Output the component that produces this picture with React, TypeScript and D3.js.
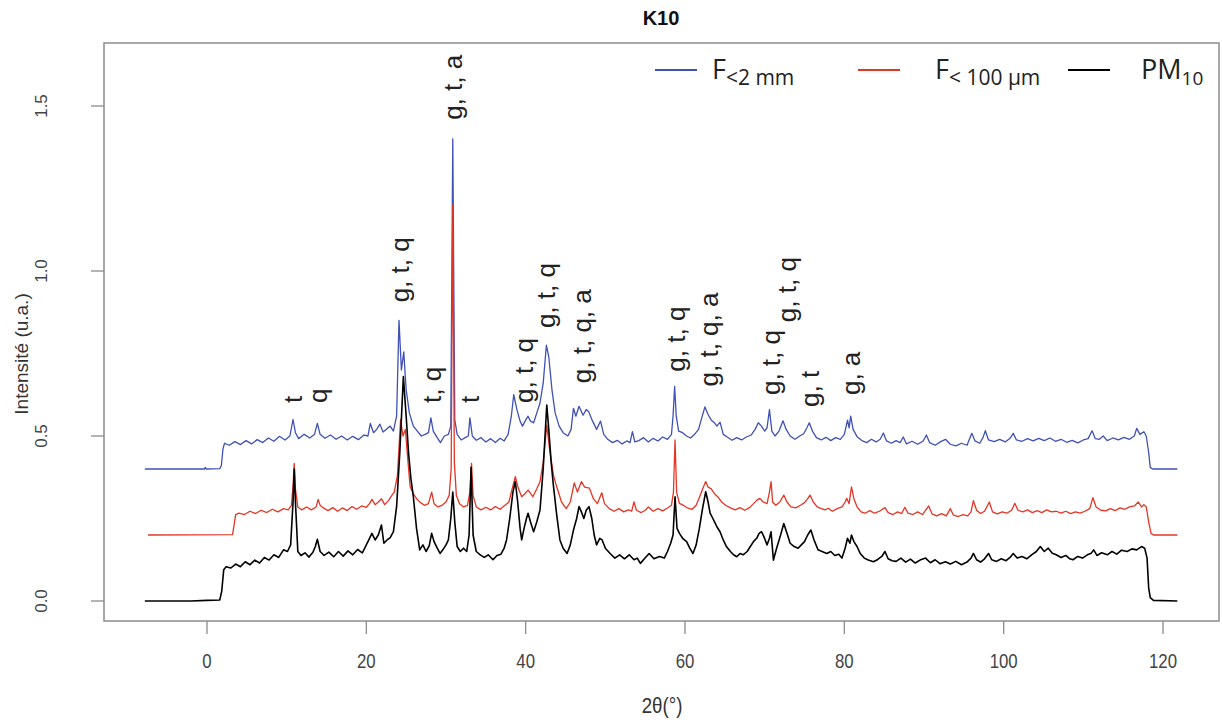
import React from "react";
import * as d3 from "d3";

const W = 1222;
const H = 724;

const xTicks = [0, 20, 40, 60, 80, 100, 120];
const yTicks = [0, 0.5, 1.0, 1.5];
const yTickLabels = ["0.0", "0.5", "1.0", "1.5"];

type P = [number, number];

// F < 2 mm (blue)
const seriesFine2mm: P[] = [
  [-7.8,0.400],[-1,0.400],[-0.3,0.400],[-0.2,0.405],[-0.1,0.400],[1.6,0.401],[1.8,0.41],[2.0,0.46],[2.2,0.478],
  [2.8,0.472],[3.5,0.483],[4.2,0.474],[4.9,0.486],[5.6,0.476],[6.3,0.489],[7.0,0.480],[7.7,0.494],[8.4,0.484],[9.1,0.499],[9.8,0.488],[10.4,0.500],[10.8,0.550],[11.1,0.51],[11.5,0.492],[12.2,0.505],[12.9,0.494],[13.5,0.505],[13.85,0.538],[14.2,0.505],[14.8,0.493],[15.5,0.503],[16.2,0.490],[16.9,0.500],[17.6,0.488],[18.3,0.499],[19.0,0.489],[19.7,0.503],[20.2,0.500],[20.5,0.538],[20.9,0.510],[21.3,0.520],[21.7,0.536],[22.1,0.512],[22.6,0.522],[23.0,0.530],[23.4,0.515],[23.8,0.560],[24.1,0.850],[24.4,0.700],[24.7,0.755],[25.0,0.640],[25.4,0.570],[25.9,0.530],[26.4,0.515],[26.9,0.500],[27.4,0.505],[27.8,0.510],[28.1,0.555],[28.4,0.515],[28.9,0.495],[29.3,0.480],[29.8,0.500],[30.3,0.505],[30.6,0.53],[30.85,1.400],[31.1,0.55],[31.4,0.505],[31.9,0.488],[32.4,0.495],[32.8,0.500],[33.0,0.555],[33.3,0.500],[33.8,0.487],[34.4,0.495],[35.0,0.482],[35.6,0.492],[36.2,0.480],[36.8,0.493],[37.3,0.485],[37.8,0.505],[38.2,0.560],[38.5,0.625],[38.9,0.580],[39.3,0.545],[39.6,0.530],[40.0,0.548],[40.3,0.560],[40.6,0.545],[41.0,0.540],[41.4,0.570],[41.8,0.600],[42.2,0.660],[42.6,0.775],[42.9,0.740],[43.3,0.640],[43.7,0.570],[44.2,0.530],[44.7,0.510],[45.3,0.500],[45.7,0.520],[46.0,0.584],[46.3,0.560],[46.7,0.590],[47.2,0.563],[47.6,0.580],[47.9,0.574],[48.4,0.545],[48.9,0.520],[49.4,0.545],[49.8,0.505],[50.3,0.490],[50.9,0.480],[51.5,0.487],[52.1,0.476],[52.7,0.485],[53.1,0.480],[53.4,0.513],[53.7,0.482],[54.2,0.486],[54.8,0.495],[55.4,0.482],[56.0,0.493],[56.6,0.485],[57.2,0.497],[57.8,0.490],[58.3,0.505],[58.5,0.560],[58.7,0.650],[58.9,0.560],[59.2,0.515],[59.7,0.510],[60.2,0.500],[60.7,0.494],[61.2,0.505],[61.7,0.520],[62.1,0.555],[62.5,0.588],[62.9,0.565],[63.3,0.548],[63.7,0.540],[64.0,0.530],[64.4,0.542],[64.8,0.505],[65.3,0.497],[65.9,0.487],[66.5,0.495],[67.1,0.488],[67.7,0.497],[68.3,0.503],[68.8,0.520],[69.2,0.540],[69.6,0.530],[70.0,0.515],[70.3,0.525],[70.6,0.580],[70.9,0.515],[71.3,0.500],[71.8,0.515],[72.3,0.546],[72.7,0.520],[73.2,0.500],[73.8,0.490],[74.4,0.500],[74.9,0.507],[75.3,0.525],[75.6,0.540],[76.0,0.515],[76.5,0.495],[77.1,0.488],[77.7,0.496],[78.3,0.486],[78.9,0.495],[79.5,0.490],[80.0,0.505],[80.4,0.548],[80.6,0.525],[80.8,0.560],[81.1,0.520],[81.6,0.498],[82.2,0.486],[82.8,0.480],[83.4,0.490],[84.0,0.482],[84.5,0.490],[84.9,0.509],[85.3,0.485],[85.9,0.478],[86.5,0.486],[87.0,0.480],[87.4,0.497],[87.8,0.476],[88.5,0.484],[89.2,0.475],[89.9,0.485],[90.3,0.503],[90.7,0.480],[91.4,0.472],[92.1,0.483],[92.7,0.490],[93.3,0.475],[94.0,0.470],[94.7,0.478],[95.4,0.472],[96.0,0.508],[96.4,0.485],[97.0,0.478],[97.4,0.495],[97.7,0.516],[98.1,0.488],[98.8,0.483],[99.5,0.490],[100.2,0.482],[100.8,0.493],[101.2,0.508],[101.6,0.488],[102.3,0.484],[103.0,0.492],[103.7,0.485],[104.4,0.493],[105.1,0.486],[105.8,0.494],[106.5,0.484],[107.2,0.490],[107.9,0.481],[108.6,0.487],[109.3,0.479],[110.0,0.488],[110.6,0.492],[111.1,0.516],[111.5,0.492],[112.0,0.490],[112.5,0.500],[113.0,0.486],[113.7,0.494],[114.4,0.488],[115.1,0.496],[115.8,0.490],[116.4,0.500],[116.7,0.523],[117.1,0.505],[117.6,0.513],[117.9,0.500],[118.2,0.450],[118.4,0.405],[118.7,0.400],[121.8,0.400]
];

// F < 100 µm (red)
const seriesFine100um: P[] = [
  [-7.4,0.200],[3.2,0.201],[3.4,0.230],[3.6,0.262],[4.0,0.266],[4.7,0.262],[5.4,0.272],[6.1,0.265],[6.8,0.275],[7.5,0.268],[8.2,0.278],[8.9,0.270],[9.6,0.280],[10.2,0.276],[10.6,0.290],[10.8,0.350],[10.95,0.417],[11.1,0.340],[11.4,0.285],[11.9,0.276],[12.5,0.285],[13.1,0.276],[13.7,0.285],[13.95,0.308],[14.2,0.290],[14.6,0.282],[15.2,0.274],[15.8,0.283],[16.4,0.272],[17.0,0.282],[17.6,0.274],[18.2,0.286],[18.8,0.278],[19.4,0.288],[20.0,0.284],[20.4,0.295],[20.7,0.308],[21.1,0.292],[21.5,0.300],[21.9,0.310],[22.3,0.292],[22.8,0.305],[23.2,0.320],[23.5,0.330],[23.9,0.380],[24.3,0.550],[24.6,0.500],[24.9,0.520],[25.2,0.430],[25.5,0.346],[25.9,0.325],[26.3,0.310],[26.8,0.298],[27.3,0.290],[27.8,0.295],[28.2,0.330],[28.5,0.295],[29.0,0.285],[29.5,0.290],[30.0,0.300],[30.4,0.320],[30.65,0.400],[30.85,1.200],[31.05,0.420],[31.3,0.320],[31.7,0.295],[32.2,0.285],[32.7,0.290],[33.0,0.330],[33.2,0.417],[33.4,0.320],[33.8,0.285],[34.4,0.276],[35.0,0.284],[35.6,0.276],[36.2,0.286],[36.8,0.278],[37.4,0.290],[37.9,0.300],[38.3,0.340],[38.7,0.377],[39.1,0.340],[39.5,0.316],[39.9,0.325],[40.3,0.336],[40.9,0.316],[41.4,0.340],[41.8,0.362],[42.2,0.420],[42.65,0.533],[43.0,0.460],[43.5,0.380],[43.9,0.346],[44.5,0.300],[45.1,0.280],[45.6,0.300],[46.1,0.358],[46.5,0.330],[47.0,0.362],[47.4,0.345],[48.0,0.342],[48.5,0.310],[49.0,0.295],[49.55,0.328],[49.9,0.295],[50.5,0.280],[51.1,0.272],[51.7,0.280],[52.3,0.270],[52.9,0.276],[53.3,0.272],[53.6,0.300],[53.9,0.275],[54.5,0.268],[55.0,0.275],[55.4,0.285],[56.0,0.272],[56.6,0.280],[57.2,0.273],[57.8,0.282],[58.3,0.290],[58.55,0.330],[58.75,0.488],[58.95,0.330],[59.3,0.296],[59.8,0.290],[60.3,0.282],[60.9,0.278],[61.4,0.290],[61.9,0.320],[62.3,0.345],[62.6,0.362],[62.9,0.345],[63.3,0.340],[63.7,0.325],[64.1,0.316],[64.6,0.300],[65.1,0.290],[65.7,0.282],[66.3,0.276],[66.9,0.283],[67.5,0.275],[68.1,0.283],[68.6,0.295],[69.0,0.305],[69.4,0.311],[69.8,0.300],[70.3,0.295],[70.6,0.330],[70.8,0.362],[71.0,0.300],[71.4,0.290],[71.9,0.300],[72.4,0.321],[72.8,0.300],[73.3,0.285],[73.9,0.282],[74.5,0.290],[75.0,0.298],[75.4,0.310],[75.7,0.321],[76.1,0.300],[76.6,0.285],[77.1,0.280],[77.6,0.276],[78.0,0.281],[78.5,0.272],[79.1,0.280],[79.7,0.285],[80.1,0.300],[80.3,0.311],[80.6,0.295],[80.9,0.346],[81.2,0.310],[81.6,0.285],[82.1,0.270],[82.6,0.266],[83.2,0.274],[83.8,0.266],[84.4,0.272],[85.1,0.283],[85.5,0.268],[86.1,0.262],[86.7,0.270],[87.2,0.265],[87.6,0.284],[88.0,0.266],[88.6,0.262],[89.2,0.270],[89.8,0.262],[90.6,0.288],[91.0,0.264],[91.6,0.258],[92.2,0.265],[92.8,0.258],[93.3,0.280],[93.7,0.260],[94.3,0.256],[94.9,0.262],[95.5,0.258],[95.9,0.270],[96.2,0.304],[96.6,0.275],[97.1,0.265],[97.6,0.272],[98.2,0.300],[98.6,0.270],[99.2,0.264],[99.8,0.270],[100.4,0.266],[101.0,0.275],[101.4,0.296],[101.8,0.275],[102.4,0.270],[103.0,0.276],[103.6,0.268],[104.2,0.274],[104.8,0.268],[105.4,0.276],[106.0,0.270],[106.6,0.272],[107.2,0.266],[107.8,0.272],[108.4,0.265],[109.0,0.270],[109.6,0.266],[110.2,0.272],[110.8,0.280],[111.2,0.313],[111.6,0.285],[112.2,0.275],[112.8,0.273],[113.4,0.280],[114.0,0.274],[114.6,0.282],[115.2,0.278],[115.8,0.285],[116.4,0.288],[116.9,0.300],[117.3,0.285],[117.6,0.292],[117.9,0.285],[118.2,0.240],[118.5,0.205],[118.8,0.200],[121.8,0.200]
];

// PM10 (black)
const seriesPM10: P[] = [
  [-7.8,0.000],[-2,0.000],[0,0.002],[1.6,0.003],[1.85,0.03],[2.1,0.095],[2.4,0.104],[3.0,0.100],[3.6,0.112],[4.2,0.104],[4.8,0.119],[5.4,0.110],[6.0,0.124],[6.6,0.115],[7.2,0.132],[7.8,0.124],[8.4,0.140],[9.0,0.132],[9.6,0.155],[10.1,0.150],[10.5,0.170],[10.8,0.300],[10.95,0.400],[11.1,0.300],[11.4,0.150],[11.8,0.138],[12.3,0.146],[12.8,0.133],[13.3,0.148],[13.6,0.165],[13.85,0.187],[14.2,0.150],[14.7,0.138],[15.3,0.148],[15.9,0.134],[16.5,0.150],[17.1,0.136],[17.7,0.152],[18.3,0.140],[18.9,0.156],[19.5,0.146],[20.0,0.170],[20.4,0.190],[20.7,0.205],[21.1,0.185],[21.5,0.200],[21.9,0.230],[22.2,0.175],[22.6,0.185],[23.0,0.192],[23.4,0.210],[23.8,0.286],[24.2,0.450],[24.65,0.680],[25.0,0.560],[25.3,0.448],[25.6,0.370],[25.9,0.316],[26.3,0.220],[26.7,0.155],[27.1,0.170],[27.5,0.150],[27.9,0.168],[28.2,0.205],[28.5,0.180],[28.9,0.160],[29.25,0.144],[29.6,0.155],[30.0,0.170],[30.3,0.185],[30.6,0.250],[30.85,0.330],[31.1,0.240],[31.4,0.165],[31.8,0.150],[32.2,0.160],[32.6,0.150],[32.9,0.200],[33.15,0.405],[33.4,0.200],[33.8,0.150],[34.3,0.140],[34.8,0.132],[35.3,0.140],[35.9,0.125],[36.4,0.138],[36.9,0.142],[37.3,0.160],[37.6,0.185],[38.0,0.250],[38.4,0.330],[38.7,0.362],[39.0,0.300],[39.3,0.220],[39.5,0.185],[39.8,0.220],[40.1,0.250],[40.3,0.266],[40.6,0.240],[41.0,0.210],[41.4,0.240],[41.8,0.276],[42.2,0.400],[42.65,0.594],[42.9,0.520],[43.2,0.420],[43.5,0.346],[43.9,0.260],[44.3,0.185],[44.7,0.160],[45.2,0.144],[45.6,0.170],[46.0,0.215],[46.4,0.250],[46.7,0.286],[47.0,0.270],[47.3,0.250],[47.6,0.275],[47.95,0.286],[48.3,0.250],[48.6,0.200],[48.9,0.170],[49.3,0.190],[49.6,0.185],[50.0,0.160],[50.6,0.144],[51.2,0.130],[51.8,0.140],[52.4,0.128],[53.0,0.140],[53.6,0.125],[54.0,0.130],[54.4,0.114],[54.9,0.128],[55.5,0.144],[56.1,0.128],[56.8,0.135],[57.4,0.130],[57.8,0.150],[58.2,0.175],[58.5,0.200],[58.75,0.316],[59.0,0.220],[59.3,0.205],[59.7,0.190],[60.2,0.180],[60.6,0.160],[61.0,0.144],[61.4,0.170],[61.8,0.220],[62.2,0.280],[62.6,0.331],[62.9,0.300],[63.15,0.266],[63.5,0.250],[63.8,0.235],[64.0,0.225],[64.4,0.210],[64.8,0.185],[65.2,0.165],[65.7,0.150],[66.1,0.140],[66.5,0.134],[66.9,0.144],[67.3,0.140],[67.8,0.150],[68.2,0.165],[68.6,0.180],[69.0,0.190],[69.3,0.205],[69.6,0.210],[69.9,0.195],[70.3,0.170],[70.6,0.190],[70.8,0.210],[71.1,0.124],[71.5,0.160],[72.0,0.200],[72.4,0.235],[72.8,0.205],[73.2,0.175],[73.7,0.165],[74.2,0.160],[74.6,0.170],[75.0,0.180],[75.4,0.200],[75.8,0.215],[76.2,0.185],[76.7,0.155],[77.2,0.150],[77.8,0.144],[78.3,0.150],[78.8,0.138],[79.3,0.142],[79.7,0.130],[80.1,0.160],[80.4,0.190],[80.7,0.175],[80.9,0.200],[81.2,0.180],[81.6,0.165],[82.0,0.144],[82.5,0.130],[83.0,0.124],[83.65,0.119],[84.2,0.126],[84.7,0.135],[85.1,0.150],[85.5,0.128],[86.0,0.122],[86.5,0.120],[87.1,0.130],[87.7,0.118],[88.3,0.127],[88.9,0.115],[89.5,0.124],[90.2,0.130],[90.8,0.116],[91.4,0.125],[92.0,0.113],[92.7,0.119],[93.3,0.112],[94.0,0.120],[94.7,0.110],[95.4,0.118],[95.9,0.130],[96.2,0.144],[96.6,0.125],[97.1,0.118],[97.6,0.128],[98.1,0.144],[98.5,0.125],[99.1,0.120],[99.7,0.128],[100.3,0.122],[100.8,0.132],[101.2,0.144],[101.7,0.130],[102.3,0.135],[102.9,0.128],[103.5,0.140],[104.1,0.150],[104.6,0.165],[105.1,0.150],[105.6,0.160],[106.1,0.145],[106.6,0.140],[107.2,0.132],[107.8,0.138],[108.3,0.128],[108.7,0.125],[109.3,0.135],[109.9,0.130],[110.5,0.140],[111.0,0.145],[111.3,0.155],[111.7,0.138],[112.3,0.146],[113.0,0.140],[113.6,0.150],[114.2,0.142],[114.8,0.154],[115.5,0.150],[116.1,0.158],[116.7,0.155],[117.3,0.165],[117.7,0.160],[118.0,0.130],[118.2,0.040],[118.4,0.010],[118.8,0.002],[121.8,0.000]
];

// Peak annotations: [2θ, intensity at text start, label]
const peakLabels: [number, number, string][] = [
  [10.8, 0.60, "t"],
  [13.9, 0.60, "q"],
  [24.2, 0.905, "g, t, q"],
  [28.2, 0.60, "t, q"],
  [30.8, 1.458, "g, t, a"],
  [33.0, 0.60, "t"],
  [39.8, 0.60, "g, t, q"],
  [42.5, 0.827, "g, t, q"],
  [47.0, 0.66, "g, t, q, a"],
  [58.8, 0.695, "g, t, q"],
  [63.0, 0.65, "g, t, q, a"],
  [70.7, 0.624, "g, t, q"],
  [72.8, 0.845, "g, t, q"],
  [75.6, 0.588, "g, t"],
  [80.8, 0.624, "g, a"],
];

const seriesNames = ["F", "F", "PM"];
const seriesSubs = ["<2 mm", "< 100 µm", "10"];
const seriesColors = ["#3f51b5", "#e53525", "#000000"];

export default function App() {
  const x = d3.scaleLinear().domain([0, 120]).range([207, 1163]);
  const y = d3.scaleLinear().domain([0, 1.5]).range([601, 106]);
  const line = d3
    .line<P>()
    .x((d) => x(d[0]))
    .y((d) => y(d[1]));

  const allSeries = [seriesFine2mm, seriesFine100um, seriesPM10];
  const plotLeft = 104, plotRight = 1219, plotTop = 43, plotBottom = 621;

  const legendLineX = [655, 858, 1068];
  const legendTextX = [712, 935, 1141];
  const subSizes = [21, 21, 19];
  const sans = "'Liberation Sans', Arial, Helvetica, sans-serif";

  return (
    <svg
      width={W}
      height={H}
      style={{ position: "absolute", left: 0, top: 0, background: "#fff" }}
      fontFamily={sans}
    >
      <rect x={0} y={0} width={W} height={H} fill="#fff" />
      <text x={661} y={25} textAnchor="middle" fontWeight="bold" fontSize={20} fill="#111">
        K10
      </text>

      {/* series */}
      {allSeries.map((s, i) => (
        <path
          key={i}
          d={line(s) || ""}
          fill="none"
          stroke={seriesColors[i]}
          strokeWidth={i === 2 ? 1.6 : 1.3}
          strokeLinejoin="round"
        />
      ))}

      {/* plot box */}
      <rect
        x={plotLeft}
        y={plotTop}
        width={plotRight - plotLeft}
        height={plotBottom - plotTop}
        fill="none"
        stroke="#8c8c8c"
        strokeWidth={1.5}
      />

      {/* x axis ticks */}
      {xTicks.map((t) => (
        <g key={t}>
          <line x1={x(t)} x2={x(t)} y1={plotBottom} y2={plotBottom + 13} stroke="#8c8c8c" strokeWidth={1.3} />
          <text
            transform={`translate(${x(t)},668) scale(0.8,1)`}
            textAnchor="middle"
            fontSize={21}
            fill="#444"
          >
            {t}
          </text>
        </g>
      ))}

      {/* y axis ticks */}
      {yTicks.map((t, i) => (
        <g key={t}>
          <line x1={plotLeft - 13} x2={plotLeft} y1={y(t)} y2={y(t)} stroke="#8c8c8c" strokeWidth={1.3} />
          <text
            transform={`translate(47,${y(t)}) rotate(-90)`}
            textAnchor="middle"
            fontSize={17}
            fill="#444"
          >
            {yTickLabels[i]}
          </text>
        </g>
      ))}

      {/* axis titles */}
      <text transform="translate(28,354) rotate(-90)" textAnchor="middle" fontSize={19} fill="#333">
        Intensité (u.a.)
      </text>
      <text transform="translate(662,713) scale(0.85,1)" textAnchor="middle" fontSize={22} fill="#333">
        2θ(°)
      </text>

      {/* peak labels */}
      {peakLabels.map(([px, py, lab], i) => (
        <text
          key={i}
          transform={`translate(${x(px)},${y(py)}) rotate(-90)`}
          dy="0.36em"
          fontSize={26}
          fill="#222"
        >
          {lab}
        </text>
      ))}

      {/* legend */}
      {seriesNames.map((n, i) => (
        <g key={i}>
          <line
            x1={legendLineX[i]}
            x2={legendLineX[i] + 42}
            y1={70}
            y2={70}
            stroke={seriesColors[i]}
            strokeWidth={2}
          />
          <text x={legendTextX[i]} y={79} fontSize={27} fill="#222" fontFamily="'Open Sans', sans-serif">
            {n}
            <tspan fontSize={subSizes[i]} dy={6}>
              {seriesSubs[i]}
            </tspan>
          </text>
        </g>
      ))}
    </svg>
  );
}
